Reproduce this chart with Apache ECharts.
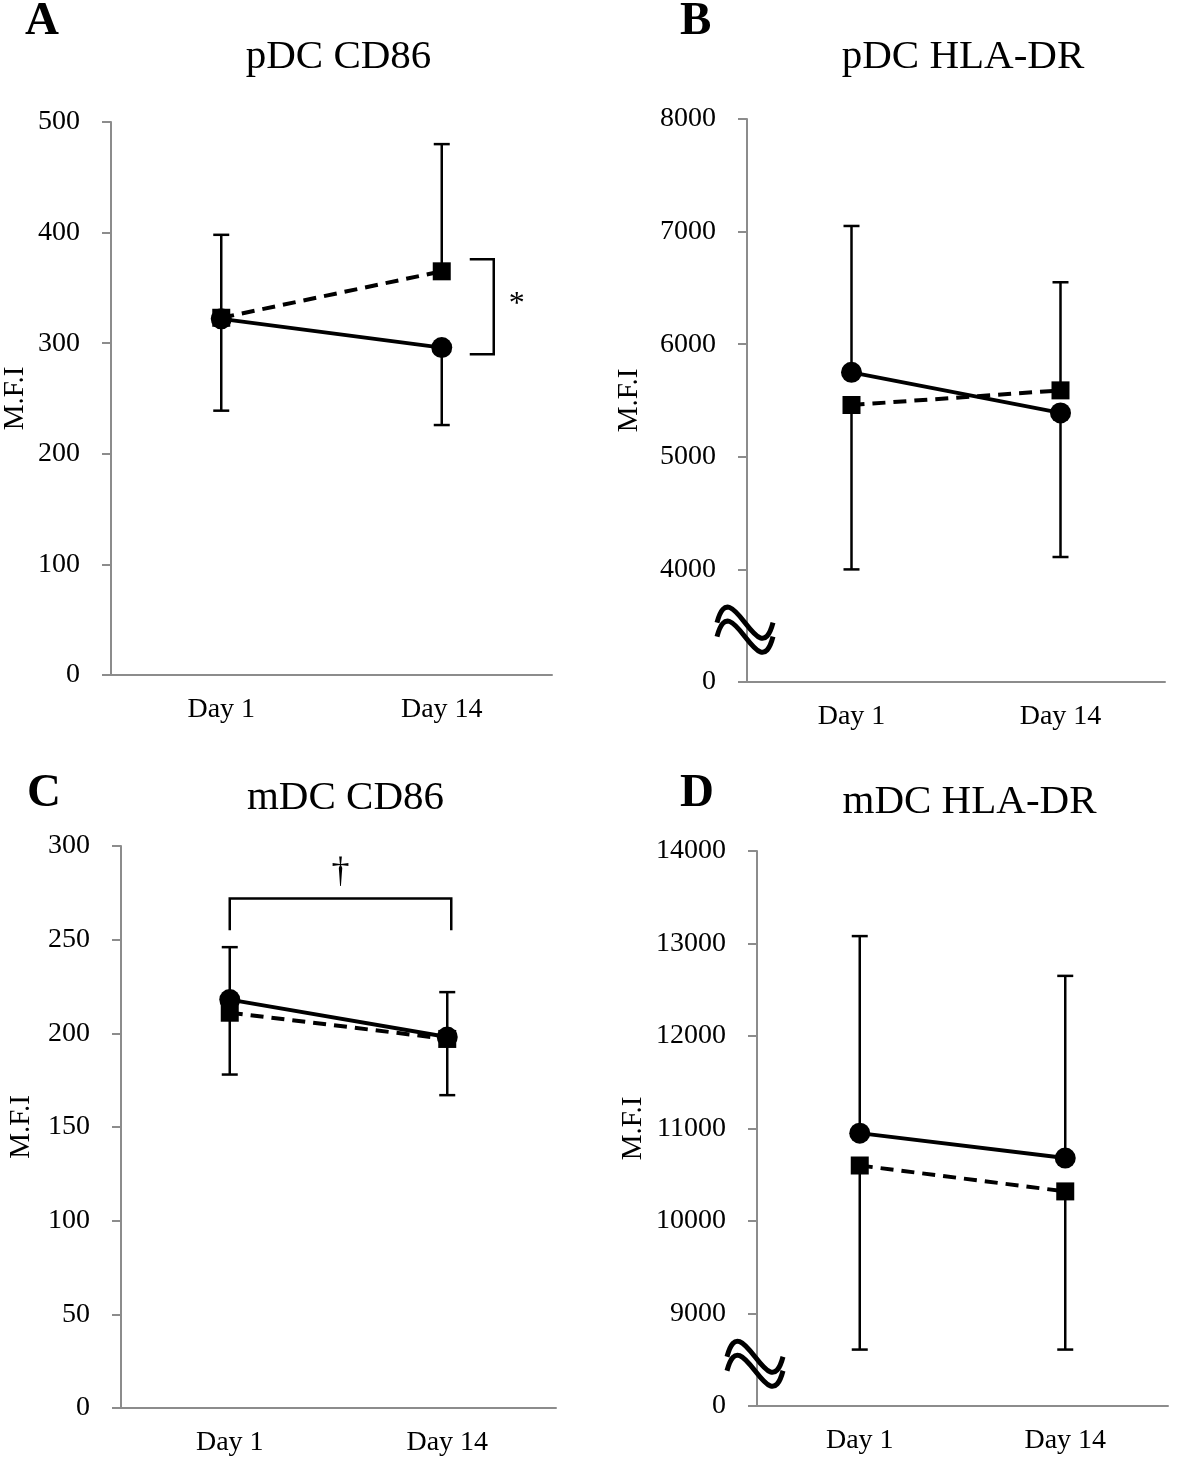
<!DOCTYPE html>
<html>
<head>
<meta charset="utf-8">
<script src="https://cdn.jsdelivr.net/npm/echarts@6/dist/echarts.min.js"></script>
<style>
  html, body { margin: 0; padding: 0; background: #fff; }
  #chart { width: 1182px; height: 1458px; }
</style>
</head>
<body>
<div id="chart"></div>
<script>
// 横轴类别
const days = ['Day 1', 'Day 14']

// A: pDC CD86
const solidA = [322, 296]
const dashedA = [323, 365]
const solidA_up = [null, null]
const solidA_low = [239, 226]
const dashedA_up = [398, 480]
const dashedA_low = [null, null]

// B: pDC HLA-DR
const solidB = [5750, 5390]
const dashedB = [5460, 5590]
const solidB_up = [7050, null]
const solidB_low = [null, 4110]
const dashedB_up = [null, 6550]
const dashedB_low = [4000, null]

// C: mDC CD86
const solidC = [218, 198]
const dashedC = [211, 197]
const solidC_up = [246, 222]
const solidC_low = [null, null]
const dashedC_up = [null, null]
const dashedC_low = [178, 167]

// D: mDC HLA-DR
const solidD = [10950, 10680]
const dashedD = [10600, 10320]
const solidD_up = [13080, 12650]
const solidD_low = [null, null]
const dashedD_up = [null, null]
const dashedD_low = [8610, 8610]

// 纵轴刻度（断轴面板第一个刻度显示为0）
const yTicksA = [0, 100, 200, 300, 400, 500]
const yTicksB = [0, 4000, 5000, 6000, 7000, 8000]
const yTicksC = [0, 50, 100, 150, 200, 250, 300]
const yTicksD = [0, 9000, 10000, 11000, 12000, 13000, 14000]

// 显著性标注
const sigA = {cat: 1, low: 290, high: 376, mark: '*'}
const sigC = {from: 0, to: 1, top: 272, arm: 255, mark: '†'}

const FONT = '"Liberation Serif", "DejaVu Serif", serif'
const panels = [
    {title: 'pDC CD86', letter: 'A', solid: solidA, dashed: dashedA,
     sUp: solidA_up, sLow: solidA_low, dUp: dashedA_up, dLow: dashedA_low,
     ticks: yTicksA, min: 0, max: 500, interval: 100, nameGap: 81,
     grid: {left: 111, top: 122, width: 441, height: 553}, titleTop: 32},
    {title: 'pDC HLA-DR', letter: 'B', solid: solidB, dashed: dashedB,
     sUp: solidB_up, sLow: solidB_low, dUp: dashedB_up, dLow: dashedB_low,
     ticks: yTicksB, min: 3000, max: 8000, interval: 1000, broken: true, nameGap: 103,
     grid: {left: 747, top: 119, width: 418, height: 563}, titleTop: 32},
    {title: 'mDC CD86', letter: 'C', solid: solidC, dashed: dashedC,
     sUp: solidC_up, sLow: solidC_low, dUp: dashedC_up, dLow: dashedC_low,
     ticks: yTicksC, min: 0, max: 300, interval: 50, nameGap: 85,
     grid: {left: 121, top: 846, width: 435, height: 562}, titleTop: 773},
    {title: 'mDC HLA-DR', letter: 'D', solid: solidD, dashed: dashedD,
     sUp: solidD_up, sLow: solidD_low, dUp: dashedD_up, dLow: dashedD_low,
     ticks: yTicksD, min: 8000, max: 14000, interval: 1000, broken: true, nameGap: 109,
     grid: {left: 757, top: 851, width: 411, height: 555}, titleTop: 777}
]

// 误差线数据 [类别索引, 均值, 端点]
function errData(mean, ends){
    let out = []
    for (let i = 0; i < mean.length; i++)
        if (ends[i] != null) out.push([i, mean[i], ends[i]])
    return out
}

function renderErr(params, api){
    let p0 = api.coord([api.value(0), api.value(1)])
    let p1 = api.coord([api.value(0), api.value(2)])
    let style = {stroke: '#000', lineWidth: 2.5}
    return {
        type: 'group',
        children: [
            {type: 'line', shape: {x1: p0[0], y1: p0[1], x2: p1[0], y2: p1[1]}, style: style},
            {type: 'line', shape: {x1: p1[0] - 8, y1: p1[1], x2: p1[0] + 8, y2: p1[1]}, style: style}
        ]
    }
}

let grids = [], xAxes = [], yAxes = [], series = [], titles = []
panels.forEach((p, k) => {
    grids.push(Object.assign({containLabel: false, outerBoundsMode: 'none'}, p.grid))
    xAxes.push({
        type: 'category', gridIndex: k, data: days,
        axisLine: {lineStyle: {color: '#8c8c8c', width: 2}},
        axisTick: {length: 8, lineStyle: {color: '#8c8c8c', width: 2}},
        axisLabel: {color: '#000', fontFamily: FONT, fontSize: 28, margin: 21}
    })
    let minV = p.min
    yAxes.push({
        type: 'value', gridIndex: k, min: p.min, max: p.max, interval: p.interval,
        name: 'M.F.I', nameLocation: 'middle', nameRotate: 90, nameGap: p.nameGap,
        nameMoveOverlap: false,
        nameTextStyle: {color: '#000', fontFamily: FONT, fontSize: 29},
        axisLine: {show: true, lineStyle: {color: '#8c8c8c', width: 2}},
        axisTick: {show: true, length: 9, lineStyle: {color: '#8c8c8c', width: 2}},
        splitLine: {show: false},
        axisLabel: {
            color: '#000', fontFamily: FONT, fontSize: 28, margin: 31,
            formatter: v => p.broken && v === minV ? String(p.ticks[0]) : String(v)
        }
    })
    series.push({
        type: 'custom', xAxisIndex: k, yAxisIndex: k, renderItem: renderErr, z: 2,
        data: errData(p.solid, p.sUp).concat(errData(p.solid, p.sLow))
    })
    series.push({
        type: 'custom', xAxisIndex: k, yAxisIndex: k, renderItem: renderErr, z: 2,
        data: errData(p.dashed, p.dUp).concat(errData(p.dashed, p.dLow))
    })
    series.push({
        type: 'line', xAxisIndex: k, yAxisIndex: k, data: p.solid, z: 3,
        symbol: 'circle', symbolSize: 21, animation: false,
        itemStyle: {color: '#000'},
        lineStyle: {color: '#000', width: 4}
    })
    series.push({
        type: 'line', xAxisIndex: k, yAxisIndex: k, data: p.dashed, z: 4,
        symbol: 'rect', symbolSize: 18, animation: false,
        itemStyle: {color: '#000'},
        lineStyle: {color: '#000', width: 4, type: [13, 8]}
    })
    titles.push({
        text: p.title, left: p.grid.left + p.grid.width / 2 + 2, textAlign: 'center',
        top: p.titleTop,
        textStyle: {color: '#000', fontFamily: FONT, fontSize: 41, fontWeight: 'normal'}
    })
})

let letterPos = [[20, -7], [675, -7], [22, 765], [675, 765]]
panels.forEach((p, k) => {
    titles.push({
        text: p.letter, left: letterPos[k][0], top: letterPos[k][1],
        textStyle: {color: '#000', fontFamily: FONT, fontSize: 47, fontWeight: 'bold'}
    })
})

let chart = echarts.init(document.querySelector('#chart'), null, {renderer: 'canvas'})
chart.setOption({
    backgroundColor: '#fff',
    animation: false,
    title: titles,
    grid: grids,
    xAxis: xAxes,
    yAxis: yAxes,
    series: series
})

// 注释：显著性括号与断轴符号
let gfx = []
const ink = {stroke: '#000', lineWidth: 2.5, fill: null}
function px(k, v){ return chart.convertToPixel({xAxisIndex: k, yAxisIndex: k}, v) }

// A 的括号
let aHi = px(0, [sigA.cat, sigA.high]), aLo = px(0, [sigA.cat, sigA.low])
let bx = aHi[0] + 52
gfx.push({type: 'polyline', shape: {points: [[bx - 24, aHi[1]], [bx, aHi[1]], [bx, aLo[1]], [bx - 24, aLo[1]]]}, style: ink})
gfx.push({type: 'text', x: bx + 23, y: (aHi[1] + aLo[1]) / 2 - 2,
    style: {text: sigA.mark, fill: '#000', font: '32px ' + FONT, align: 'center', verticalAlign: 'middle'}})

// C 的括号
let c0 = px(2, [sigC.from, sigC.top]), c1 = px(2, [sigC.to, sigC.top]), cArm = px(2, [sigC.from, sigC.arm])
gfx.push({type: 'polyline', shape: {points: [[c0[0], cArm[1]], [c0[0], c0[1]], [c1[0] + 4, c1[1]], [c1[0] + 4, cArm[1]]]}, style: ink})
gfx.push({type: 'text', x: (c0[0] + c1[0]) / 2 + 2, y: c0[1] - 26,
    style: {text: sigC.mark, fill: '#000', font: '36px ' + FONT, align: 'center', verticalAlign: 'middle'}})

// 断轴符号
panels.forEach((p, k) => {
    if (!p.broken) return
    let c = px(k, [0, p.min + p.interval / 2])
    let cx = p.grid.left - 2, cy = c[1] + 4
    for (let d of [-7, 7]) {
        gfx.push({type: 'bezierCurve', shape: {
            x1: cx - 28, y1: cy + d, cpx1: cx - 14, cpy1: cy + d - 54,
            cpx2: cx + 14, cpy2: cy + d + 54, x2: cx + 28, y2: cy + d
        }, style: {stroke: '#000', lineWidth: 5, fill: null}, z: 100})
    }
})
chart.setOption({graphic: gfx})
</script>
</body>
</html>
